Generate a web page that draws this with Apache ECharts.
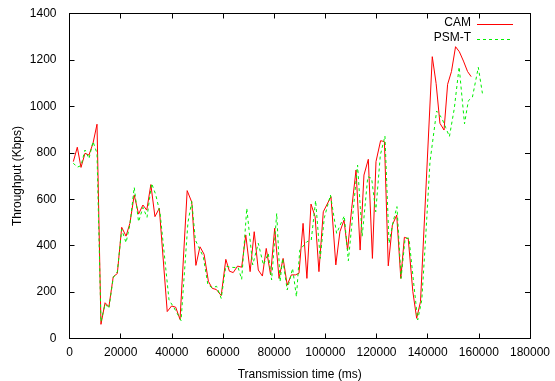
<!DOCTYPE html>
<html>
<head>
<meta charset="utf-8">
<script src="https://cdn.jsdelivr.net/npm/echarts@6/dist/echarts.min.js"></script>
<style>
  html, body { margin: 0; padding: 0; background: #fff; }
  #chart { width: 555px; height: 381px; }
</style>
</head>
<body>
<div id="chart"></div>
<script>
// Throughput samples over the transmission, one time/value pair per sample
const camTime = [1500, 3050, 4500, 6060, 7620, 9190, 10750, 12300, 13900, 15400,
  17100, 18700, 20400, 22100, 23600, 25300, 27000, 28700, 30200, 31800,
  33400, 35100, 38200, 39900, 41500, 43200, 46000, 47800, 49400, 51000,
  52600, 54300, 55800, 57400, 59300, 61100, 62500, 64000, 65700, 67300,
  68900, 70600, 72200, 73800, 75400, 76900, 78600, 80200, 81900, 83500,
  85100, 86700, 88300, 89700, 91300, 92800, 94400, 96000, 97500, 99200,
  102200, 104100, 105700, 107300, 108700, 110300, 112000, 113600, 115100, 116800,
  118400, 119800, 121600, 123100, 124600, 126200, 127900, 129500, 130900, 132400,
  134200, 135700, 137200, 141800, 143300, 144800, 146400, 147800, 149300, 150900,
  152400, 154000, 155600, 157000];
const camValue = [762, 824, 737, 798, 790, 841, 923, 61, 154, 137,
  266, 280, 479, 441, 496, 618, 536, 575, 553, 663,
  525, 561, 116, 140, 135, 82, 637, 587, 315, 395,
  363, 246, 216, 211, 185, 341, 290, 284, 312, 307,
  446, 288, 460, 295, 269, 388, 274, 475, 259, 345,
  230, 274, 274, 281, 496, 259, 579, 525, 288, 546,
  611, 317, 460, 510, 381, 560, 726, 381, 704, 772,
  345, 762, 852, 848, 313, 489, 532, 259, 436, 430,
  202, 87, 159, 1214, 1099, 927, 898, 1095, 1150, 1257,
  1235, 1195, 1150, 1128];

const psmTime = [1500, 3050, 4500, 6060, 7620, 9190, 10750, 12300, 13900, 15400,
  17100, 18700, 20400, 22100, 23600, 25300, 27000, 28700, 30300, 32100,
  33700, 35400, 38900, 40600, 42100, 43600, 46300, 47800, 49200, 50700,
  52300, 54100, 55800, 57500, 59300, 61100, 62700, 64300, 65900, 67300,
  69300, 71600, 73800, 75800, 77700, 79000, 81000, 82300, 83300, 85100,
  87200, 88700, 90000, 92800, 94500, 96200, 98000, 99600, 102000, 104400,
  107400, 109000, 112600, 114400, 116600, 118100, 119700, 121500, 123300, 124900,
  126500, 128000, 129600, 131200, 132700, 134400, 136100, 137700, 139300, 140900,
  143500, 145500, 147000, 148500, 150400, 152300, 154400, 155900, 157500, 159800,
  161400];
const psmValue = [755, 738, 745, 812, 775, 848, 798, 72, 148, 130,
  262, 288, 470, 413, 490, 651, 503, 565, 522, 668,
  620, 540, 166, 137, 108, 77, 500, 590, 424, 389,
  352, 232, 218, 225, 173, 312, 307, 306, 306, 255,
  561, 317, 410, 317, 367, 252, 539, 245, 345, 209,
  302, 180, 381, 417, 424, 594, 345, 520, 618, 453,
  528, 335, 747, 441, 697, 690, 546, 790, 872, 410,
  503, 568, 259, 432, 432, 252, 80, 166, 450, 760,
  980, 950, 910, 870, 990, 1170, 925, 1024, 1040, 1168,
  1056];

const xTicks = { min: 0, max: 180000, step: 20000 };
const yTicks = { min: 0, max: 1400, step: 200 };

const seriesNames = ['CAM', 'PSM-T'];
const seriesColors = ['#ff0000', '#00f000'];

const FONT = '"Liberation Sans", Arial, sans-serif';
const pair = (ts, vs) => ts.map((t, i) => [t, vs[i]]);
const plain = v => String(v);

const chart = echarts.init(document.getElementById('chart'), null, { renderer: 'canvas' });

const axisBase = {
  type: 'value',
  axisLine: { show: true, onZero: false, lineStyle: { color: '#000', width: 1 } },
  axisTick: { show: true, inside: true, length: 5, lineStyle: { color: '#000', width: 1 } },
  splitLine: { show: false },
  axisLabel: { color: '#000', fontFamily: FONT, fontSize: 12, formatter: plain }
};

// key in the upper right corner: label text, then a line sample
const keyRight = 513, keyLen = 36, keyTop = 24, keyStep = 15;
const keyGraphics = [];
seriesNames.forEach((name, i) => {
  const y = keyTop + i * keyStep;
  keyGraphics.push({
    type: 'text',
    right: 555 - (keyRight - keyLen - 6),
    top: y - 7,
    style: { text: name, fill: '#000', font: '12px ' + FONT, textAlign: 'right' }
  });
  keyGraphics.push({
    type: 'line',
    shape: { x1: keyRight - keyLen, y1: y + 0.5, x2: keyRight, y2: y + 0.5 },
    style: { stroke: seriesColors[i], lineWidth: 1, lineDash: i === 1 ? [3, 3] : null }
  });
});

chart.setOption({
  animation: false,
  backgroundColor: '#fff',
  grid: { left: 69.5, right: 25, top: 13.5, bottom: 42.5, containLabel: false, outerBoundsMode: 'none' },
  graphic: keyGraphics,
  xAxis: [
    Object.assign({}, axisBase, {
      position: 'bottom',
      min: xTicks.min, max: xTicks.max, interval: xTicks.step,
      name: 'Transmission time (ms)',
      nameLocation: 'middle',
      nameGap: 30,
      nameMoveOverlap: false,
      nameTextStyle: { color: '#000', fontFamily: FONT, fontSize: 12 },
      axisLabel: Object.assign({}, axisBase.axisLabel, { margin: 8 })
    }),
    Object.assign({}, axisBase, {
      position: 'top',
      min: xTicks.min, max: xTicks.max, interval: xTicks.step,
      axisLabel: { show: false }
    })
  ],
  yAxis: [
    Object.assign({}, axisBase, {
      position: 'left',
      min: yTicks.min, max: yTicks.max, interval: yTicks.step,
      name: 'Throughput (Kbps)',
      nameLocation: 'middle',
      nameGap: 46,
      nameMoveOverlap: false,
      nameTextStyle: { color: '#000', fontFamily: FONT, fontSize: 12 },
      axisLabel: Object.assign({}, axisBase.axisLabel, { margin: 13 })
    }),
    Object.assign({}, axisBase, {
      position: 'right',
      min: yTicks.min, max: yTicks.max, interval: yTicks.step,
      axisLabel: { show: false }
    })
  ],
  series: [
    {
      name: seriesNames[0],
      type: 'line',
      data: pair(camTime, camValue),
      symbol: 'none',
      lineStyle: { color: seriesColors[0], width: 1 },
      itemStyle: { color: seriesColors[0] },
      z: 2
    },
    {
      name: seriesNames[1],
      type: 'line',
      data: pair(psmTime, psmValue),
      symbol: 'none',
      lineStyle: { color: seriesColors[1], width: 1, type: [3, 3] },
      itemStyle: { color: seriesColors[1] },
      z: 3
    }
  ]
});
</script>
</body>
</html>
